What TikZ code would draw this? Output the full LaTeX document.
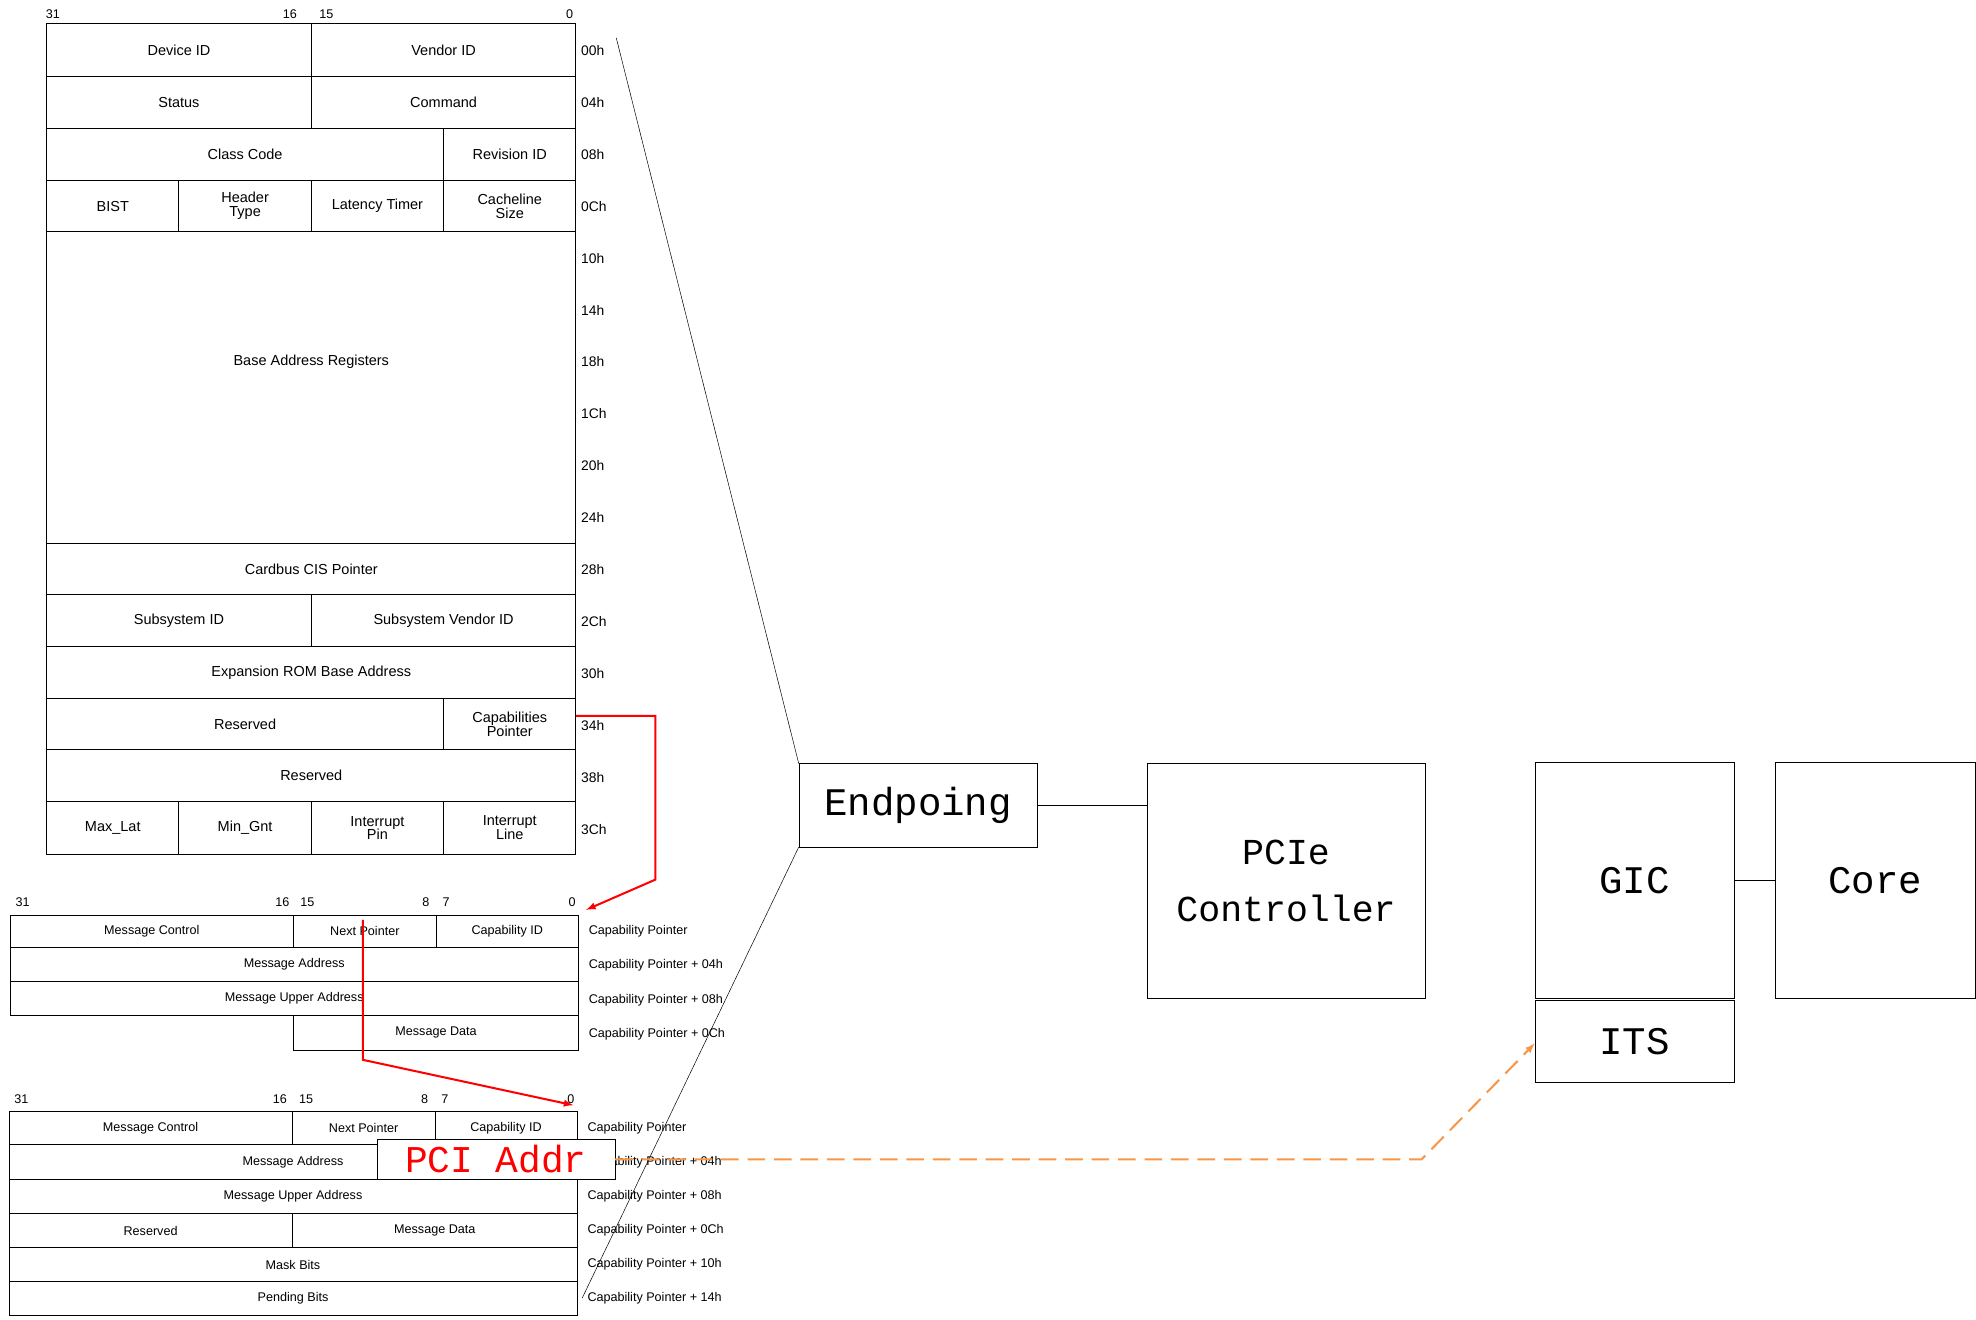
\documentclass[tikz,border=0pt]{standalone}
\usepackage{fontspec}
\setmainfont{Liberation Sans}
\newfontfamily\bigf{Liberation Mono}
\definecolor{orng}{HTML}{F79646}
\begin{document}
\begin{tikzpicture}[x=1pt,y=-1pt,
  tx/.style={font=\fontsize{11.5}{11}\selectfont,align=center,inner sep=0},
  sx/.style={font=\fontsize{10}{10}\selectfont,align=center,inner sep=0},
  ox/.style={font=\fontsize{11}{11}\selectfont,anchor=west,inner sep=0},
  hx/.style={font=\fontsize{10}{10}\selectfont,inner sep=0},
  bigbox/.style={draw,inner sep=0},
  bigt/.style={font=\bigf\fontsize{31}{36}\selectfont,align=center,inner sep=0}]
\useasboundingbox (0,0) rectangle (1568,1047);
% top table
\newcommand\cellbox[5]{\draw[thick] (#1,#2) rectangle (#3,#4); \node[tx] at ({(#1+#3)/2},{(#2+#4)/2}) {#5};}
\foreach \a/\b in {31/42,16/230,15/259,0/452}{\node[hx] at (\b,11) {\a};}
\cellbox{37}{19}{247}{61}{Device ID}
\cellbox{247}{19}{457}{61}{Vendor ID}
\cellbox{37}{61}{247}{102}{Status}
\cellbox{247}{61}{457}{102}{Command}
\cellbox{37}{102}{352}{143}{Class Code}
\cellbox{352}{102}{457}{143}{Revision ID}
\cellbox{37}{143}{142}{184}{BIST}
\cellbox{142}{143}{247}{184}{Header\\Type}
\cellbox{247}{143}{352}{184}{Latency Timer}
\cellbox{352}{143}{457}{184}{Cacheline\\Size}
\draw[thick] (37,184) rectangle (457,431);
\node[tx] (bar) at (247,287) {Base Address Registers};
\cellbox{37}{431}{457}{472}{Cardbus CIS Pointer}
\cellbox{37}{472}{247}{513}{Subsystem ID}
\cellbox{247}{472}{457}{513}{Subsystem Vendor ID}
\cellbox{37}{513}{457}{554}{Expansion ROM Base Address}
\cellbox{37}{554}{352}{595}{Reserved}
\cellbox{352}{554}{457}{595}{Capabilities\\Pointer}
\cellbox{37}{595}{457}{636}{Reserved}
\cellbox{37}{636}{142}{678}{Max\_Lat}
\cellbox{142}{636}{247}{678}{Min\_Gnt}
\cellbox{247}{636}{352}{678}{Interrupt\\Pin}
\cellbox{352}{636}{457}{678}{Interrupt\\Line}
\foreach \t [count=\i from 0] in {00h,04h,08h,0Ch,10h,14h,18h,1Ch,20h,24h,28h,2Ch,30h,34h,38h,3Ch}{\node[ox] at (461,{40+41.2*\i}) {\t};}
% second table
\newcommand\scell[5]{\draw (#1,#2) rectangle (#3,#4); \node[sx] at ({(#1+#3)/2},{(#2+#4)/2}) {#5};}
\foreach \a/\b in {31/18,16/224,15/244,8/338,7/354,0/454}{\node[hx] at (\b,716) {\a};}
\scell{8}{726}{233}{752}{Message Control}
\scell{233}{726}{346}{752}{Next Pointer}
\scell{346}{726}{459}{752}{Capability ID}
\scell{8}{752}{459}{779}{Message Address}
\scell{8}{779}{459}{806}{Message Upper Address}
\scell{233}{806}{459}{833}{Message Data}
\foreach \t [count=\i from 0] in {Capability Pointer,Capability Pointer + 04h,Capability Pointer + 08h,Capability Pointer + 0Ch}{\node[ox,font=\fontsize{10}{10}\selectfont] at (467,{739+27.2*\i}) {\t};}
% third table
\foreach \a/\b in {31/17,16/222,15/243,8/337,7/353,0/453}{\node[hx] at (\b,872) {\a};}
\scell{7}{882}{232}{908}{Message Control}
\scell{232}{882}{345}{908}{Next Pointer}
\scell{345}{882}{458}{908}{Capability ID}
\scell{7}{908}{458}{936}{Message Address}
\scell{7}{936}{458}{963}{Message Upper Address}
\scell{7}{963}{232}{990}{Reserved}
\scell{232}{963}{458}{990}{Message Data}
\scell{7}{990}{458}{1017}{Mask Bits}
\scell{7}{1017}{458}{1044}{Pending Bits}
\foreach \t [count=\i from 0] in {Capability Pointer,Capability Pointer + 04h,Capability Pointer + 08h,Capability Pointer + 0Ch,Capability Pointer + 10h,Capability Pointer + 14h}{\node[ox,font=\fontsize{10}{10}\selectfont] at (466,{895+27*\i}) {\t};}
% boxes
\node[bigbox,minimum width=189,minimum height=66] (ep) at (728.5,639) {};
\node[bigt] at (ep) {Endpoing};
\node[bigbox,minimum width=221,minimum height=186] (pcie) at (1020.5,699) {};
\node[bigt,font=\bigf\fontsize{29}{45}\selectfont] at (pcie) {PCIe\\Controller};
\node[bigbox,minimum width=158,minimum height=187] (gic) at (1297,698.5) {};
\node[bigt] at (gic) {GIC};
\node[bigbox,minimum width=158,minimum height=65] (its) at (1297,826.5) {};
\node[bigt] at (its) {ITS};
\node[bigbox,minimum width=158,minimum height=187] (core) at (1488,698.5) {};
\node[bigt] at (core) {Core};
\coordinate (t1) at (489,30);
\coordinate (t2) at (462,1030);
\draw (t1) -- (ep.north west);
\draw (ep.south west) -- (t2);
\draw (ep.east) -- (pcie.west |- ep.east);
\draw (gic.east) -- (core.west);
% red arrows
\draw[red,line width=1.6pt,-latex] (457,568) -- (520,568) -- (520,698) -- (465,722);
\draw[red,line width=1.6pt,-latex] (288,730) -- (288,841) -- (455,877);
% PCI Addr
\node[draw,fill=white,minimum width=189,minimum height=32,inner sep=0] (pa) at (393.5,920) {};
\node[text=red,font=\bigf\fontsize{30}{30}\selectfont,inner sep=0] at (pa) {PCI Addr};
\draw[orng,line width=1.6pt,dash pattern=on 14pt off 7pt,-latex] (pa.east) -- (1128,920) -- (its.west |- 0,828);
\end{tikzpicture}
\end{document}
